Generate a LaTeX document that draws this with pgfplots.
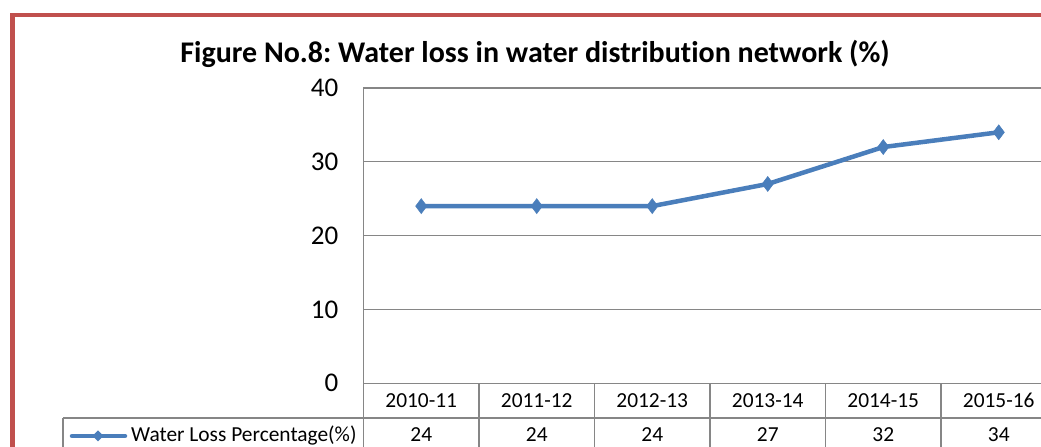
\documentclass[border=0pt]{standalone}
\usepackage{pgfplots}
\pgfplotsset{compat=1.18}
\usepackage{fontspec}
\setmainfont{Carlito}[Ligatures={NoCommon,NoContextual}]
\frenchspacing
\definecolor{xlblue}{HTML}{4A7EBB}
\definecolor{xlred}{HTML}{C0504D}
\definecolor{xlgray}{HTML}{868686}
\begin{document}
\begin{tikzpicture}[x=1bp,y=1bp]
\path[use as bounding box, clip] (0,0) rectangle (1041,447);
\fill[white] (0,0) rectangle (1041,447);
\begin{axis}[
  at={(363.5bp,63.7bp)}, anchor=south west,
  scale only axis, width=693bp, height=295.3bp,
  xmin=0, xmax=6, ymin=0, ymax=40,
  xtick=\empty, ytick={0,10,20,30,40},
  ymajorgrids, grid style={xlgray, line width=1.3bp},
  axis line style={xlgray, line width=1.3bp},
  major tick length=0pt,
  /pgf/number format/assume math mode=true,
  yticklabel style={font=\fontsize{27bp}{30bp}\selectfont, anchor=east, inner sep=0pt, xshift=-25bp},
  clip=false,
]
\addplot[xlblue, line width=4.5bp, mark=diamond*, mark size=7.5bp, mark options={fill=xlblue, draw=xlblue, line width=0.5bp}]
  coordinates {(0.5,24) (1.5,24) (2.5,24) (3.5,27) (4.5,32) (5.5,34)};
\end{axis}
% data table
\begin{scope}[xlgray, line width=1.3bp]
\draw (63,29) -- (1060,29);
\draw (63,29) -- (63,-10);
\foreach \x in {363.5,479,594.5,710,825.5,941,1056.5} \draw (\x,63.7) -- (\x,-10);
\end{scope}
\begin{scope}[font=\fontsize{21.4bp}{24bp}\selectfont, every node/.style={anchor=base, inner sep=0pt}]
\foreach \x/\l in {421.25/2010-11,536.75/2011-12,652.25/2012-13,767.75/2013-14,883.25/2014-15,998.75/2015-16}
  \node at (\x,39.5) {\l};
\foreach \x/\l in {421.25/24,536.75/24,652.25/24,767.75/27,883.25/32,998.75/34}
  \node at (\x,5) {\l};
\node[anchor=base west] at (131,5) {Water Loss Percentage(\%)};
\end{scope}
\draw[xlblue, line width=4.5bp, line cap=round] (72,11) -- (125,11);
\fill[xlblue] (98,11) +(-5.5,0) -- +(0,5.5) -- +(5.5,0) -- +(0,-5.5) -- cycle;
% title
\node[anchor=base, inner sep=0pt, font=\bfseries\fontsize{30bp}{34bp}\selectfont] at (535,384) {Figure No.8: Water loss in water distribution network (\%)};
% red frame
\draw[xlred, line width=4.6bp] (12.5,-20) -- (12.5,432) -- (1100,432);
\end{tikzpicture}
\end{document}
